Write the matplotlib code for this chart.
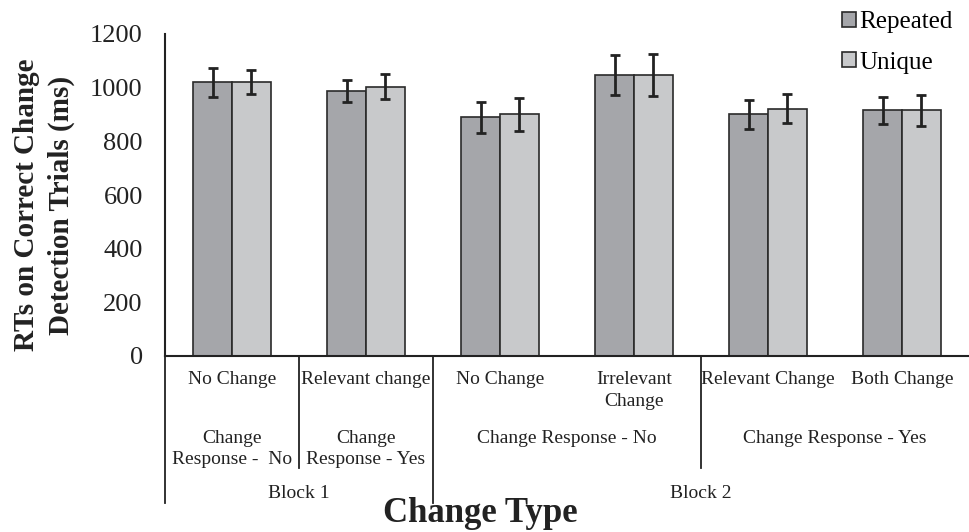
import matplotlib.pyplot as plt
import matplotlib.transforms as mtransforms
import numpy as np

plt.rcParams["font.family"] = ["Liberation Serif", "DejaVu Serif"]

# data
categories = ["No Change", "Relevant change", "No Change",
              "Irrelevant\nChange", "Relevant Change", "Both Change"]
repeated = [1020, 988, 890, 1047, 900, 916]
repeated_err = [53, 40, 58, 73, 54, 51]
unique = [1020, 1003, 900, 1047, 922, 916]
unique_err = [45, 47, 60, 78, 55, 58]

responses = ["Change\nResponse -  No", "Change\nResponse - Yes",
             "Change Response - No", "Change Response - Yes"]
response_pos = [0, 1, 2.5, 4.5]
blocks = ["Block 1", "Block 2"]
block_pos = [0.5, 3.5]

W, H = 970, 532
fig = plt.figure(figsize=(W / 100, H / 100), dpi=100)
ax = fig.add_axes([165 / W, 1 - 356 / H, (969 - 165) / W, (356 - 34) / H])

x = np.arange(len(categories))
bw = 0.289
err_kw = dict(ecolor="#222222", elinewidth=2, capthick=2)
ax.bar(x - bw / 2, repeated, bw, yerr=repeated_err, capsize=3.4, color="#a5a6aa",
       edgecolor="#2a2a2a", linewidth=1.2, label="Repeated", error_kw=err_kw)
ax.bar(x + bw / 2, unique, bw, yerr=unique_err, capsize=3.4, color="#c8c9cb",
       edgecolor="#2a2a2a", linewidth=1.2, label="Unique", error_kw=err_kw)

ax.set_xlim(-0.5, 5.5)
ax.set_ylim(0, 1200)
ax.set_yticks(range(0, 1201, 200))
ax.tick_params(axis="y", length=0, pad=16, labelsize=19, colors="#222222")
ax.set_xticks([])
for s in ["top", "right"]:
    ax.spines[s].set_visible(False)
for s in ["left", "bottom"]:
    ax.spines[s].set_linewidth(1.5)
    ax.spines[s].set_color("#222222")

def fy(px):
    return 1 - px / H

fig.text(44 / W, fy(205), "RTs on Correct Change\nDetection Trials (ms)", rotation=90,
         ha="center", va="center", fontsize=21, fontweight="bold", color="#222222",
         linespacing=1.4)

# multi-level category axis below the plot
tr = mtransforms.blended_transform_factory(ax.transData, fig.transFigure)

for xi, lab in zip(x, categories):
    ax.text(xi, fy(371), lab, transform=tr, ha="center", va="top",
            fontsize=14, color="#222222", linespacing=1.4)
for xi, lab in zip(response_pos, responses):
    ax.text(xi, fy(430), lab, transform=tr, ha="center", va="top",
            fontsize=14, color="#222222", linespacing=1.28)
for xi, lab in zip(block_pos, blocks):
    ax.text(xi, fy(494), lab, transform=tr, ha="center", va="center",
            fontsize=14, color="#222222")

for xb, bottom in [(-0.5, 503), (0.5, 468), (1.5, 503), (3.5, 468)]:
    ax.plot([xb, xb], [fy(356), fy(bottom)], transform=tr, color="#222222",
            linewidth=1.3, clip_on=False)

fig.text(480 / W, fy(514), "Change Type", ha="center", va="center",
         fontsize=25, fontweight="bold", color="#222222")

ax.legend(loc="upper left", bbox_to_anchor=(827 / W, 1.0 + 4 / H), bbox_transform=fig.transFigure,
          frameon=False, fontsize=18, handlelength=0.55, handleheight=0.55,
          handletextpad=0.15, labelspacing=0.75, borderaxespad=0.2)

fig.savefig("out.png", dpi=100)
